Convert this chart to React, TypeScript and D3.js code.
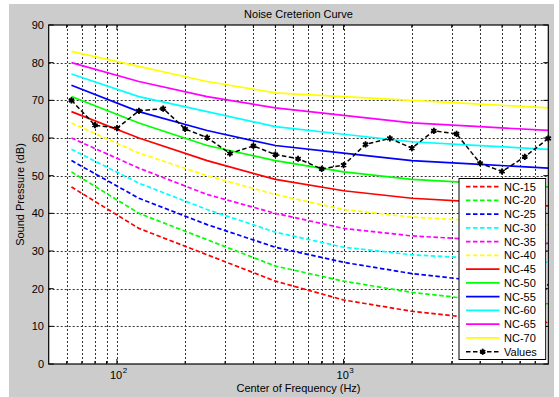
import React from "react";
import * as d3 from "d3";

// Octave-band centre frequencies of the NC rating curves (Hz)
const octaveBands = [63, 125, 250, 500, 1000, 2000, 4000, 8000];

// NC rating curves, sound pressure level per octave band (dB)
const nc15 = [47, 36, 29, 22, 17, 14, 12, 11];
const nc20 = [51, 40, 33, 26, 22, 19, 17, 16];
const nc25 = [54, 44, 37, 31, 27, 24, 22, 21];
const nc30 = [57, 48, 41, 35, 31, 29, 28, 27];
const nc35 = [60, 52, 45, 40, 36, 34, 33, 32];
const nc40 = [64, 56, 50, 45, 41, 39, 38, 37];
const nc45 = [67, 60, 54, 49, 46, 44, 43, 42];
const nc50 = [71, 64, 58, 54, 51, 49, 48, 47];
const nc55 = [74, 67, 62, 58, 56, 54, 53, 52];
const nc60 = [77, 71, 67, 63, 61, 59, 58, 57];
const nc65 = [80, 75, 71, 68, 66, 64, 63, 62];
const nc70 = [83, 79, 75, 72, 71, 70, 69, 68];

// Measured spectrum, one-third-octave bands
const thirdOctaveBands = [
  63, 80, 100, 125, 160, 200, 250, 315, 400, 500, 630, 800, 1000, 1250, 1600,
  2000, 2500, 3150, 4000, 5000, 6300, 8000,
];
const measuredLevels = [
  70, 63.4, 62.6, 67.2, 67.8, 62.4, 60.1, 55.9, 57.9, 55.6, 54.5, 51.8, 52.8,
  58.3, 59.9, 57.3, 61.9, 61.1, 53.3, 51.1, 55.0, 59.9,
];

const yTicks = [0, 10, 20, 30, 40, 50, 60, 70, 80, 90];
const xDecadeTicks = [100, 1000];
const xGridTicks = [
  60, 70, 80, 90, 100, 200, 300, 400, 500, 600, 700, 800, 900, 1000, 2000, 3000,
  4000, 5000, 6000, 7000,
];

const title = "Noise Creterion Curve";
const xLabel = "Center of Frequency (Hz)";
const yLabel = "Sound Pressure (dB)";

type Curve = { name: string; values: number[]; color: string; dashed: boolean };

const curves: Curve[] = [
  { name: "NC-15", values: nc15, color: "#ff0000", dashed: true },
  { name: "NC-20", values: nc20, color: "#00ff00", dashed: true },
  { name: "NC-25", values: nc25, color: "#0000ff", dashed: true },
  { name: "NC-30", values: nc30, color: "#00ffff", dashed: true },
  { name: "NC-35", values: nc35, color: "#ff00ff", dashed: true },
  { name: "NC-40", values: nc40, color: "#ffff00", dashed: true },
  { name: "NC-45", values: nc45, color: "#ff0000", dashed: false },
  { name: "NC-50", values: nc50, color: "#00ff00", dashed: false },
  { name: "NC-55", values: nc55, color: "#0000ff", dashed: false },
  { name: "NC-60", values: nc60, color: "#00ffff", dashed: false },
  { name: "NC-65", values: nc65, color: "#ff00ff", dashed: false },
  { name: "NC-70", values: nc70, color: "#ffff00", dashed: false },
];

const W = 559;
const H = 397;
const plot = { left: 48.7, right: 548.3, top: 25, bottom: 364 };
const FONT = "'Liberation Sans', Arial, Helvetica, sans-serif";
const DASH = "4.5,2.5";

export default function App() {
  const x = d3.scaleLog().domain([50, 8000]).range([plot.left, plot.right]);
  const y = d3.scaleLinear().domain([0, 90]).range([plot.bottom, plot.top]);

  const line = d3
    .line<[number, number]>()
    .x((d) => x(d[0]))
    .y((d) => y(d[1]));

  // asterisk marker, drawn with a heavy stroke so it reads as a solid blob
  const marker = d3.symbol().type(d3.symbolAsterisk).size(26)();
  const markerCore = d3.symbol().type(d3.symbolDiamond).size(12)();

  const Marker = ({ cx, cy }: { cx: number; cy: number }) => (
    <g transform={`translate(${cx},${cy})`}>
      <path d={marker!} fill="none" stroke="#000" strokeWidth={1.8} />
      <path d={markerCore!} fill="#000" />
    </g>
  );

  const legend = { x: 459, y: 178.5, w: 86.7, h: 181, row: 13.75, first: 186.7 };
  const legendRows = [...curves.map((c) => c.name), "Values"];

  return (
    <svg
      width={W}
      height={H}
      style={{ position: "fixed", left: 0, top: 0, display: "block" }}
      fontFamily={FONT}
    >
      <rect x={0} y={0} width={W} height={H} fill="#ffffff" />
      <rect x={9} y={4} width={545} height={H - 4} fill="#cccccc" />
      <rect
        x={plot.left}
        y={plot.top}
        width={plot.right - plot.left}
        height={plot.bottom - plot.top}
        fill="#ffffff"
      />

      {/* grid */}
      <g stroke="#333333" strokeWidth={1} strokeDasharray="2,2">
        {yTicks.slice(1, -1).map((t) => (
          <line key={"gy" + t} x1={plot.left} x2={plot.right} y1={Math.round(y(t)) + 0.5} y2={Math.round(y(t)) + 0.5} />
        ))}
        {xGridTicks.map((t) => (
          <line key={"gx" + t} x1={Math.round(x(t)) + 0.5} x2={Math.round(x(t)) + 0.5} y1={plot.top} y2={plot.bottom} />
        ))}
      </g>

      {/* inner ticks */}
      <g stroke="#000" strokeWidth={1}>
        {yTicks.map((t) => (
          <g key={"ty" + t}>
            <line x1={plot.left} x2={plot.left + 5} y1={y(t)} y2={y(t)} />
            <line x1={plot.right} x2={plot.right - 5} y1={y(t)} y2={y(t)} />
          </g>
        ))}
        {xGridTicks.map((t) => {
          const len = xDecadeTicks.includes(t) ? 5 : 3;
          return (
            <g key={"tx" + t}>
              <line x1={x(t)} x2={x(t)} y1={plot.bottom} y2={plot.bottom - len} />
              <line x1={x(t)} x2={x(t)} y1={plot.top} y2={plot.top + len} />
            </g>
          );
        })}
      </g>

      {/* NC curves */}
      <g fill="none" strokeWidth={1.7}>
        {curves.map((c) => (
          <path
            key={c.name}
            d={line(octaveBands.map((f, i) => [f, c.values[i]]))!}
            stroke={c.color}
            strokeDasharray={c.dashed ? DASH : undefined}
          />
        ))}
      </g>

      {/* measured spectrum */}
      <path
        d={line(thirdOctaveBands.map((f, i) => [f, measuredLevels[i]]))!}
        fill="none"
        stroke="#000"
        strokeWidth={1.5}
        strokeDasharray={DASH}
      />
      {thirdOctaveBands.map((f, i) => (
        <Marker key={"m" + f} cx={x(f)} cy={y(measuredLevels[i])} />
      ))}

      {/* axes box */}
      <rect
        x={plot.left}
        y={plot.top}
        width={plot.right - plot.left}
        height={plot.bottom - plot.top}
        fill="none"
        stroke="#000"
        strokeWidth={1.2}
      />

      {/* y tick labels */}
      <g fontSize={11} fill="#000" textAnchor="end">
        {yTicks.map((t) => (
          <text key={"ly" + t} x={44} y={y(t)} dy="0.35em">
            {t}
          </text>
        ))}
      </g>

      {/* x tick labels */}
      <g fontSize={11} fill="#000">
        {xDecadeTicks.map((t) => (
          <text key={"lx" + t} x={x(t) - 7} y={379}>
            10
            <tspan fontSize={8} dx={0.5} dy={-6}>
              {Math.round(Math.log10(t))}
            </tspan>
          </text>
        ))}
      </g>

      <text x={(plot.left + plot.right) / 2} y={18} fontSize={11} textAnchor="middle" fill="#000">
        {title}
      </text>
      <text x={(plot.left + plot.right) / 2} y={392} fontSize={11} textAnchor="middle" fill="#000">
        {xLabel}
      </text>
      <text
        transform={`translate(20,${(plot.top + plot.bottom) / 2}) rotate(-90)`}
        fontSize={11}
        textAnchor="middle"
        dy="0.35em"
        fill="#000"
      >
        {yLabel}
      </text>

      {/* legend */}
      <rect x={legend.x} y={legend.y} width={legend.w} height={legend.h} fill="#ffffff" stroke="#000" strokeWidth={1} />
      {legendRows.map((name, i) => {
        const cy = legend.first + i * legend.row;
        const c = curves[i];
        return (
          <g key={"lg" + name}>
            {c ? (
              <line
                x1={466}
                x2={499.5}
                y1={cy}
                y2={cy}
                stroke={c.color}
                strokeWidth={1.7}
                strokeDasharray={c.dashed ? DASH : undefined}
              />
            ) : (
              <>
                <line x1={466} x2={499.5} y1={cy} y2={cy} stroke="#000" strokeWidth={1.5} strokeDasharray={DASH} />
                <Marker cx={482.7} cy={cy} />
              </>
            )}
            <text x={504} y={cy} dy="0.35em" fontSize={11} fill="#000">
              {name}
            </text>
          </g>
        );
      })}
    </svg>
  );
}
